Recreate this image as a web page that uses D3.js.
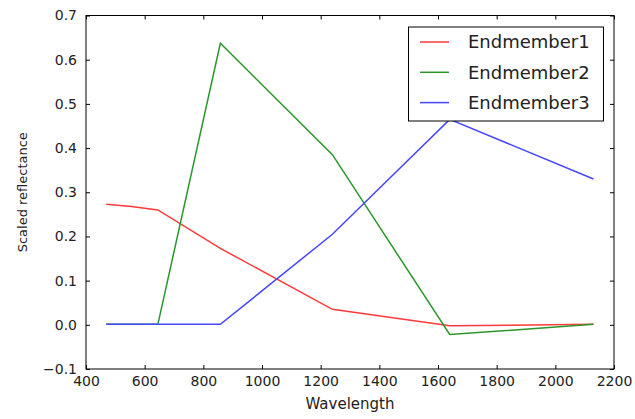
<!DOCTYPE html>
<html>
<head>
<meta charset="utf-8">
<script src="https://cdn.jsdelivr.net/npm/d3@7"></script>
<style>
  body { margin: 0; background: #fff; }
  svg text { font-family: "DejaVu Sans", sans-serif; fill: #222; }
</style>
</head>
<body>
<svg id="chart"></svg>
<script>
const width = 635;
const height = 419;

const wavelengths = [469, 555, 645, 858, 1240, 1640, 2130];
const endmember1 = [0.273, 0.268, 0.260, 0.173, 0.035, -0.002, 0.001];
const endmember2 = [0.001, 0.001, 0.001, 0.637, 0.385, -0.022, 0.001];
const endmember3 = [0.001, 0.001, 0.001, 0.001, 0.205, 0.465, 0.330];
const seriesNames = ["Endmember1", "Endmember2", "Endmember3"];
const seriesColors = ["#ff3a3a", "#2a962a", "#4646ff"];
const xTicks = [400, 600, 800, 1000, 1200, 1400, 1600, 1800, 2000, 2200];
const yTicks = [-0.1, 0.0, 0.1, 0.2, 0.3, 0.4, 0.5, 0.6, 0.7];

const plot = { left: 86, top: 15.5, right: 614, bottom: 369 };

const svg = d3.select("#chart")
  .attr("width", width)
  .attr("height", height);

const x = d3.scaleLinear().domain([400, 2200]).range([plot.left, plot.right]);
const y = d3.scaleLinear().domain([-0.1, 0.7]).range([plot.bottom, plot.top]);

// series lines
const allSeries = [endmember1, endmember2, endmember3];
const line = d3.line()
  .x((d, i) => x(wavelengths[i]))
  .y(d => y(d));

allSeries.forEach((s, k) => {
  svg.append("path")
    .datum(s)
    .attr("fill", "none")
    .attr("stroke", seriesColors[k])
    .attr("stroke-width", 1.5)
    .attr("d", line);
});

// axes, ticks inside on all four sides
const tickLen = 4;
svg.append("g")
  .attr("transform", `translate(0,${plot.bottom})`)
  .call(d3.axisBottom(x).tickValues(xTicks).tickSizeInner(-tickLen).tickSizeOuter(0).tickPadding(7).tickFormat(d3.format("d")));
svg.append("g")
  .attr("transform", `translate(0,${plot.top})`)
  .call(d3.axisTop(x).tickValues(xTicks).tickSizeInner(-tickLen).tickSizeOuter(0).tickFormat(""));
svg.append("g")
  .attr("transform", `translate(${plot.left},0)`)
  .call(d3.axisLeft(y).tickValues(yTicks).tickSizeInner(-tickLen).tickSizeOuter(0).tickPadding(9).tickFormat(d => d3.format(".1f")(d).replace("-", "\u2212")));
svg.append("g")
  .attr("transform", `translate(${plot.right},0)`)
  .call(d3.axisRight(y).tickValues(yTicks).tickSizeInner(-tickLen).tickSizeOuter(0).tickFormat(""));

svg.selectAll(".domain").remove();
svg.selectAll(".tick line").attr("stroke", "#000");
svg.selectAll(".tick text").attr("font-size", 14).attr("fill", "#222");

svg.append("rect")
  .attr("x", plot.left)
  .attr("y", plot.top)
  .attr("width", plot.right - plot.left)
  .attr("height", plot.bottom - plot.top)
  .attr("fill", "none")
  .attr("stroke", "#000")
  .attr("stroke-width", 1);

// axis labels
svg.append("text")
  .attr("x", (plot.left + plot.right) / 2)
  .attr("y", 409)
  .attr("text-anchor", "middle")
  .attr("font-size", 15)
  .text("Wavelength");

svg.append("text")
  .attr("transform", `translate(27,${(plot.top + plot.bottom) / 2}) rotate(-90)`)
  .attr("text-anchor", "middle")
  .attr("font-size", 13)
  .text("Scaled reflectance");

// legend
const legend = svg.append("g");
legend.append("rect")
  .attr("x", 408.5)
  .attr("y", 27)
  .attr("width", 195)
  .attr("height", 94)
  .attr("fill", "#fff")
  .attr("stroke", "#000");

seriesNames.forEach((name, k) => {
  const ly = 42 + k * 30.3;
  legend.append("line")
    .attr("x1", 420).attr("x2", 449)
    .attr("y1", ly).attr("y2", ly)
    .attr("stroke", seriesColors[k])
    .attr("stroke-width", 1.5);
  legend.append("text")
    .attr("x", 468)
    .attr("y", ly)
    .attr("dy", "0.35em")
    .attr("font-size", 18)
    .text(name);
});
</script>
</body>
</html>
